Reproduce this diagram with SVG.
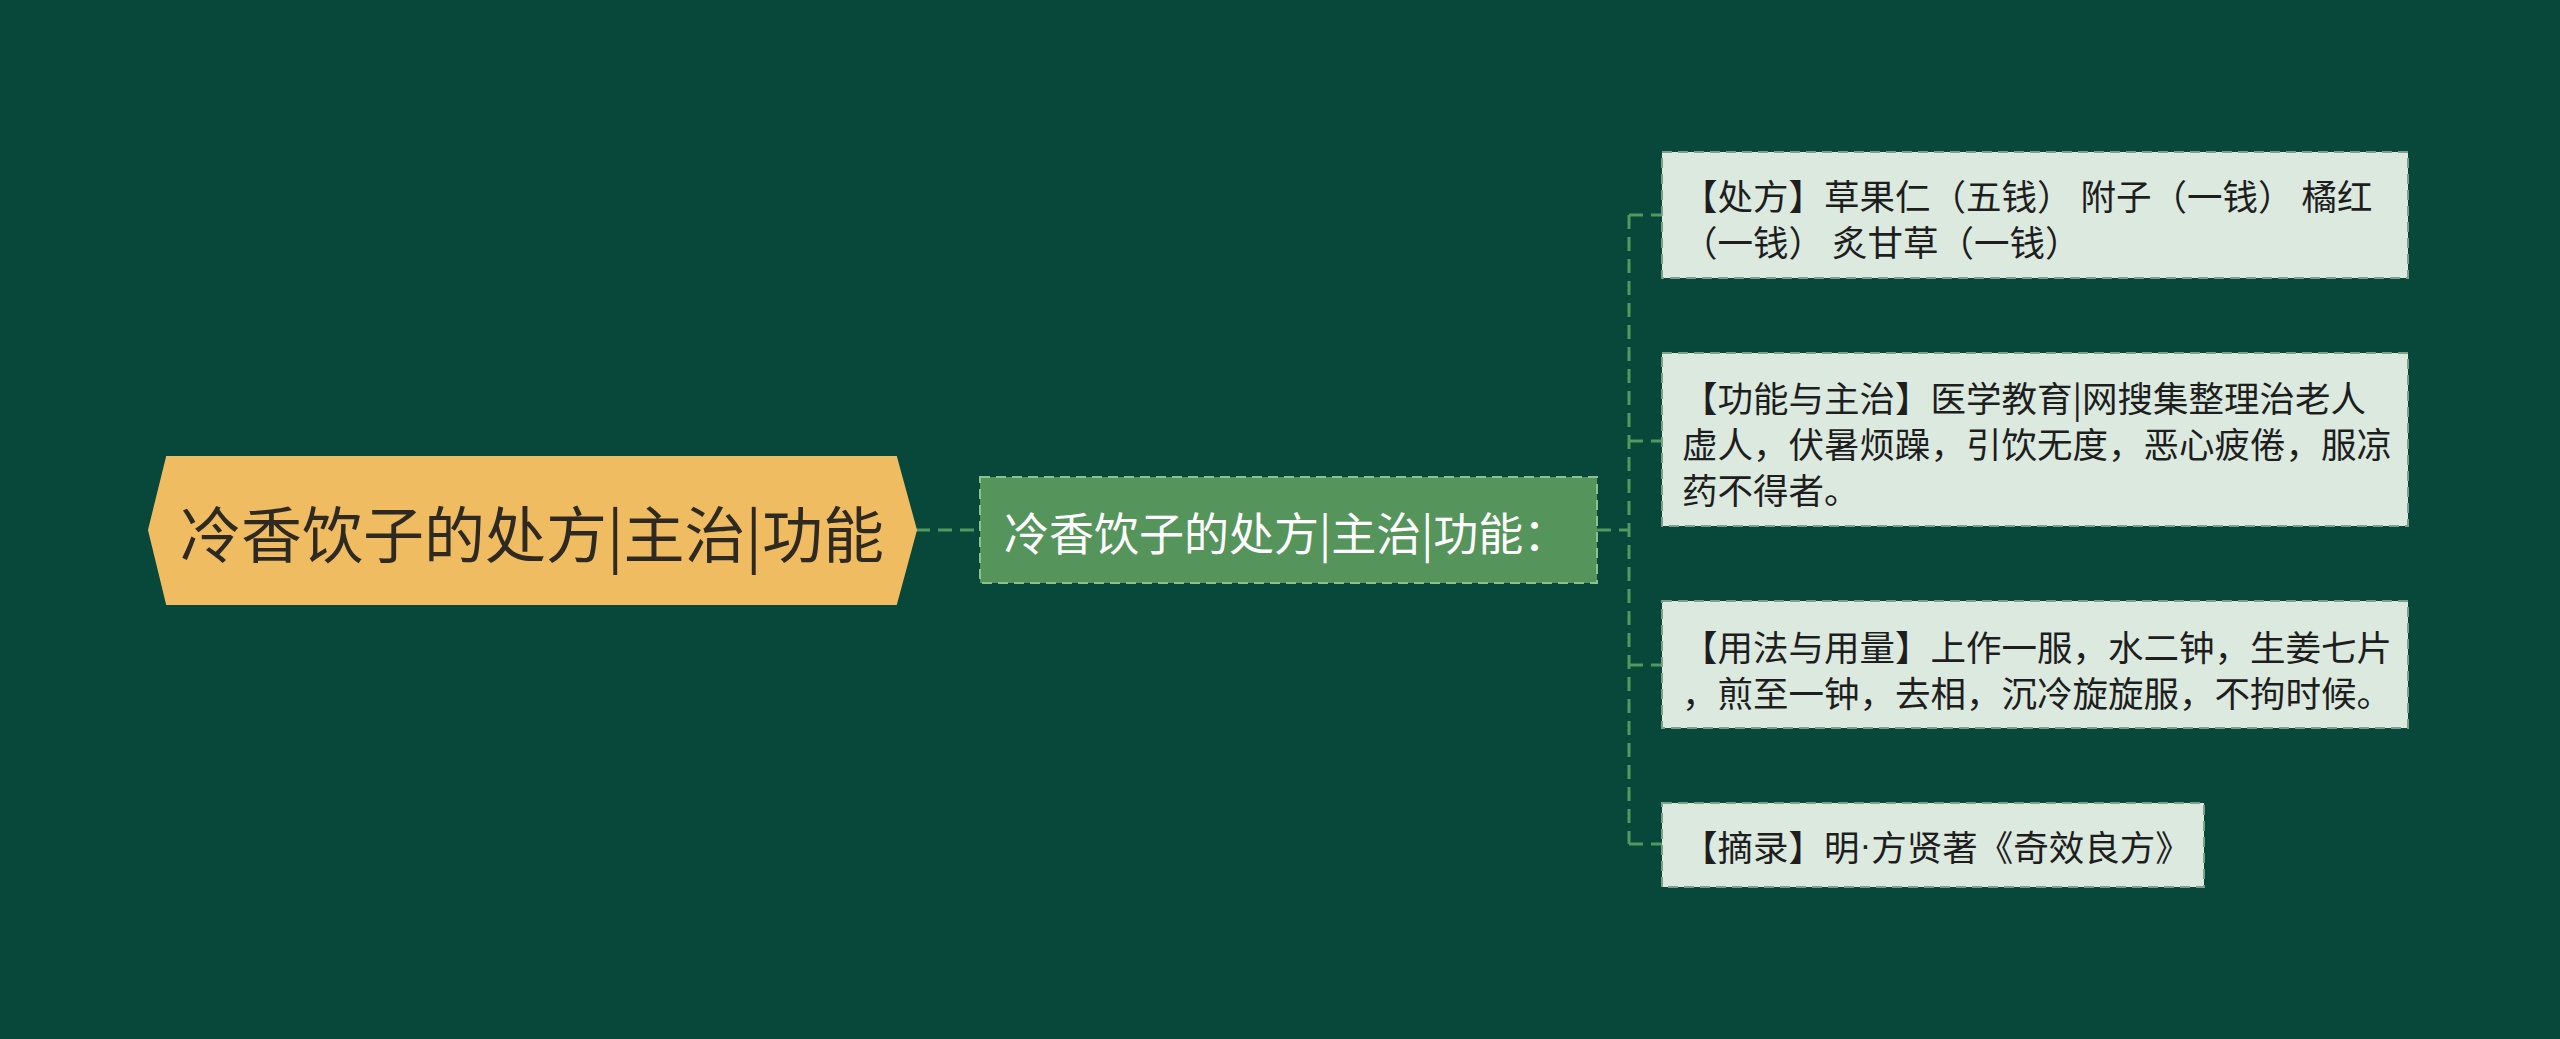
<svg xmlns="http://www.w3.org/2000/svg" width="2560" height="1039" viewBox="0 0 2560 1039">
<style>
.bg{fill:#07483a}
.conn{fill:none;stroke:#4f9a5c;stroke-width:3;stroke-dasharray:14 8}
.root{fill:#f0bc62;stroke:#f0bc62;stroke-width:2}
.roottxt{font-family:"Noto Sans CJK SC","Noto Sans",sans-serif;font-size:61px;fill:#2e2a22}
.sub{fill:#55955b;stroke:#8cc08e;stroke-width:2;stroke-dasharray:10 6}
.subtxt{font-family:"Noto Sans CJK SC","Noto Sans",sans-serif;font-size:45px;fill:#ffffff}
.leaf{fill:#dbe9df;stroke:#7f9e8a;stroke-width:2;stroke-dasharray:10 6}
.leaftxt{font-family:"Noto Sans CJK SC","Noto Sans",sans-serif;font-size:35.5px;fill:#1e1e1e}
.dot{font-family:"Liberation Sans",sans-serif}
</style>
<rect class="bg" x="0" y="0" width="2560" height="1039"/>
<g id="connectors">
<path class="conn" d="M916 530 H980"/>
<path class="conn" d="M1597 530 H1629"/>
<path class="conn" d="M1629 215 V844"/>
<path class="conn" d="M1629 215 H1662"/>
<path class="conn" d="M1629 441 H1662"/>
<path class="conn" d="M1629 665 H1662"/>
<path class="conn" d="M1629 844 H1662"/>
</g>
<g id="root">
<polygon class="root" points="149,530 167,457 896,457 916,530 896,604 167,604"/>
<text class="roottxt" x="532" y="531" text-anchor="middle" dominant-baseline="central">冷香饮子的处方|主治|功能</text>
</g>
<g id="sub">
<rect class="sub" x="980" y="477" width="617" height="106"/>
<text class="subtxt" x="1004" y="531" dominant-baseline="central">冷香饮子的处方|主治|功能：</text>
</g>
<g id="leaf1">
<rect class="leaf" x="1662" y="152" width="746" height="126"/>
<text class="leaftxt" x="1682" y="194" dominant-baseline="central">【处方】草果仁（五钱） 附子（一钱） 橘红</text>
<text class="leaftxt" x="1682" y="240" dominant-baseline="central">（一钱） 炙甘草（一钱）</text>
</g>
<g id="leaf2">
<rect class="leaf" x="1662" y="353" width="746" height="173"/>
<text class="leaftxt" x="1682" y="396" dominant-baseline="central">【功能与主治】医学教育|网搜集整理治老人</text>
<text class="leaftxt" x="1682" y="442" dominant-baseline="central">虚人，伏暑烦躁，引饮无度，恶心疲倦，服凉</text>
<text class="leaftxt" x="1682" y="488" dominant-baseline="central">药不得者。</text>
</g>
<g id="leaf3">
<rect class="leaf" x="1662" y="601" width="746" height="127"/>
<text class="leaftxt" x="1682" y="645" dominant-baseline="central">【用法与用量】上作一服，水二钟，生姜七片</text>
<text class="leaftxt" x="1682" y="691" dominant-baseline="central">，煎至一钟，去相，沉冷旋旋服，不拘时候。</text>
</g>
<g id="leaf4">
<rect class="leaf" x="1662" y="803" width="542" height="84"/>
<text class="leaftxt" x="1682" y="845" dominant-baseline="central">【摘录】明<tspan class="dot">·</tspan>方贤著《奇效良方》</text>
</g>
</svg>
